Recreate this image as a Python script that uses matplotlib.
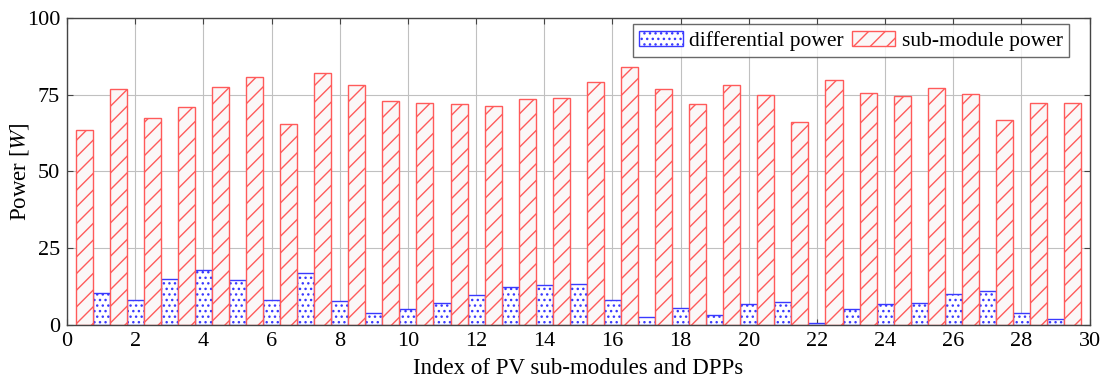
import matplotlib
matplotlib.use("Agg")
import matplotlib.pyplot as plt
import numpy as np

plt.rcParams['font.family'] = ['Liberation Serif', 'DejaVu Serif']
plt.rcParams['mathtext.fontset'] = 'stix'
plt.rcParams['hatch.linewidth'] = 1.0

# sub-module power (30 values, bars centered at k-0.5)
sub_power = [63.5, 76.8, 67.3, 71.1, 77.4, 80.6, 65.5, 82.2, 78.2, 73.1,
             72.2, 72.0, 71.3, 73.6, 73.9, 79.2, 84.1, 76.7, 72.0, 78.0,
             74.9, 66.1, 79.9, 75.7, 74.6, 77.1, 75.2, 66.8, 72.2, 72.4]
# differential power (29 values, bars centered at integer k)
diff_power = [10.5, 8.1, 14.9, 17.9, 14.7, 8.1, 16.8, 7.9, 3.8, 5.1,
              7.3, 9.7, 12.5, 13.0, 13.4, 8.1, 2.7, 5.4, 3.1, 6.9,
              7.6, 0.8, 5.3, 6.8, 7.0, 10.0, 11.2, 3.8, 1.8]

x_sub = np.arange(1, len(sub_power) + 1) - 0.5
x_diff = np.arange(1, len(diff_power) + 1)

xticks = list(range(0, 31, 2))
yticks = [0, 25, 50, 75, 100]

red = '#ff5a5a'
blue = '#3a3aff'

fig = plt.figure(figsize=(11.04, 3.81), dpi=100)
ax = fig.add_axes([0.0607, 0.147, 0.9263, 0.806])

ax.set_axisbelow(True)
ax.grid(True, color='#c0c0c0', linewidth=0.8)

b1 = ax.bar(x_diff, diff_power, width=0.5, facecolor='white', edgecolor=blue,
            hatch='...', linewidth=1.0, label='differential power', zorder=2)
b2 = ax.bar(x_sub, sub_power, width=0.5, facecolor='#fbf7f7', edgecolor=red,
            hatch='//', linewidth=1.0, label='sub-module power', zorder=2)

ax.set_xlim(0, 30)
ax.set_ylim(0, 100)
ax.set_xticks(xticks)
ax.set_yticks(yticks)
ax.tick_params(direction='in', top=True, right=True, labelsize=16,
               length=4, color='#444444', pad=5)
for s in ax.spines.values():
    s.set_color('#444444')
    s.set_linewidth(1.0)

ax.set_xlabel('Index of PV sub-modules and DPPs', fontsize=16.5, labelpad=5)
ax.set_ylabel('Power [$W$]', fontsize=16.5)
ax.yaxis.set_label_coords(-0.035, 0.5)

leg = ax.legend(loc='upper right', bbox_to_anchor=(0.98, 0.98), ncol=2,
                fontsize=15.5, frameon=True, fancybox=False, edgecolor='#444444',
                handlelength=2.0, handleheight=0.7, handletextpad=0.3,
                columnspacing=0.4, borderpad=0.3, borderaxespad=0.0)
leg.get_frame().set_linewidth(1.0)

fig.savefig('out.png', dpi=100)
